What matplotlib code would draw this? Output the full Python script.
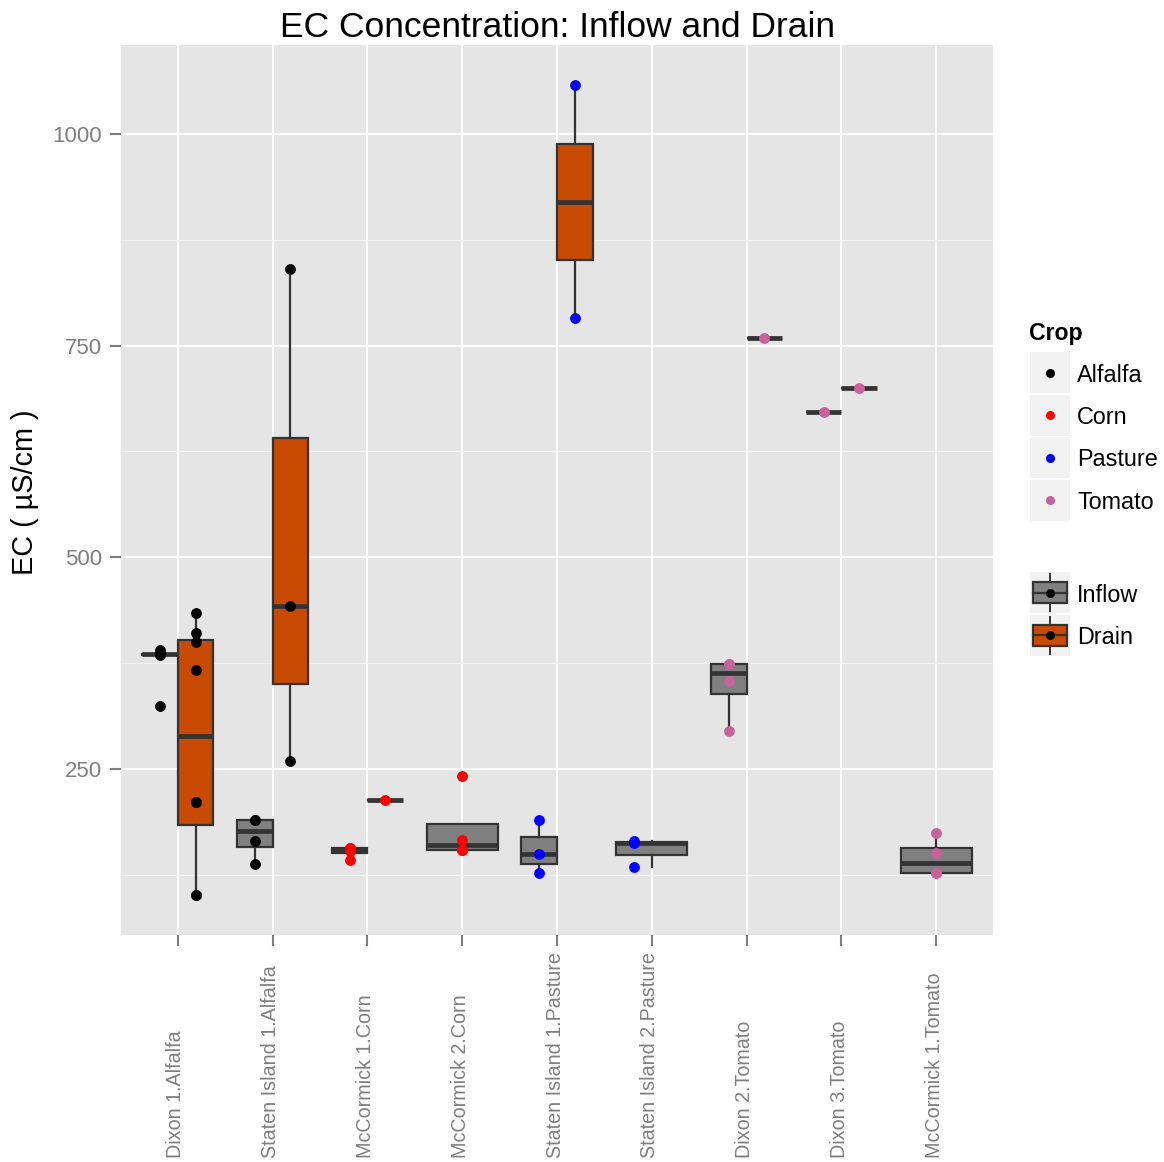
import matplotlib
matplotlib.use("Agg")
import matplotlib.pyplot as plt
from matplotlib.patches import Rectangle
import numpy as np

plt.rcParams["font.family"] = ["Liberation Sans", "DejaVu Sans"]

# ---- data ----
sites = [
    "Dixon 1.Alfalfa", "Staten Island 1.Alfalfa", "McCormick 1.Corn",
    "McCormick 2.Corn", "Staten Island 1.Pasture", "Staten Island 2.Pasture",
    "Dixon 2.Tomato", "Dixon 3.Tomato", "McCormick 1.Tomato",
]
site_crop = ["Alfalfa", "Alfalfa", "Corn", "Corn", "Pasture", "Pasture",
             "Tomato", "Tomato", "Tomato"]

inflow_ec = [
    [325, 385, 386, 386, 391],
    [138, 165, 190, 190],
    [143, 153, 157, 157],
    [155, 155, 166, 242],
    [127, 150, 190],
    [135, 163, 165],
    [295, 354, 374, 374],
    [672],
    [127, 127, 151, 175],
]
drain_ec = [
    [102, 102, 211, 211, 367, 400, 411, 434],
    [260, 442, 840],
    [214],
    [],
    [782, 1057],
    [],
    [759],
    [700],
    [],
]

crops = ["Alfalfa", "Corn", "Pasture", "Tomato"]
crop_colors = ["#000000", "#FF0000", "#0000FF", "#C8629C"]
types = ["Inflow", "Drain"]
type_fills = ["#808080", "#C94A02"]

# ---- layout / style ----
W, H = 1164, 1162
EDGE = "#333333"
GREY50 = "#7F7F7F"
dodge = 0.1875
# inflow-only sites: points of "Staten Island 2.Pasture" still sit at the inflow slot
inflow_point_slot = [-1, -1, -1, 0, -1, -1, -1, -1, 0]

fig = plt.figure(figsize=(W / 100, H / 100), dpi=100)
ax = fig.add_axes([121 / W, 1 - 935 / H, 872 / W, 890 / H])
ax.set_facecolor("#E5E5E5")
for s in ax.spines.values():
    s.set_visible(False)

color_of = dict(zip(crops, crop_colors))
box_kw = dict(patch_artist=True, showfliers=False, showcaps=False,
              boxprops=dict(edgecolor=EDGE, linewidth=1.6),
              whiskerprops=dict(color=EDGE, linewidth=1.6),
              medianprops=dict(color=EDGE, linewidth=3.4, solid_capstyle="butt"),
              manage_ticks=False)

for i, (site, crop) in enumerate(zip(sites, site_crop)):
    x = i + 1
    both = len(drain_ec[i]) > 0
    groups = [(inflow_ec[i], 0), (drain_ec[i], 1)]
    for vals, t in groups:
        if not vals:
            continue
        if both:
            pos = x - dodge if t == 0 else x + dodge
            width = 2 * dodge
        else:
            pos = x
            width = 4 * dodge
        bp = ax.boxplot([vals], positions=[pos], widths=width, **box_kw)
        for b in bp["boxes"]:
            b.set_facecolor(type_fills[t])
            b.set_zorder(2)
        if t == 0 and not both:
            px = x + inflow_point_slot[i] * dodge
        else:
            px = pos
        ax.plot([px] * len(vals), vals, "o", color=color_of[crop], ms=7.8,
                mec="none", zorder=4)

all_vals = np.concatenate([np.array(v, float) for v in inflow_ec + drain_ec if v])
lo, hi = all_vals.min(), all_vals.max()
pad = (hi - lo) * 0.05
ax.set_ylim(lo - pad, hi + pad)
ax.set_xlim(0.4, len(sites) + 0.6)

ax.set_yticks([250, 500, 750, 1000])
ax.set_yticks([125, 375, 625, 875], minor=True)
ax.set_xticks(np.arange(1, len(sites) + 1))
ax.set_xticklabels([])
ax.grid(True, which="major", color="white", linewidth=1.5)
ax.grid(True, which="minor", axis="y", color="#F2F2F2", linewidth=0.8)
ax.set_axisbelow(True)
ax.tick_params(which="major", length=8, width=1.5, color=GREY50,
               labelcolor=GREY50, labelsize=16, pad=5.5)
ax.tick_params(which="minor", length=0)

for i, site in enumerate(sites):
    ax.text(i + 1 - 0.02, -(1158 - 935) / 890, site, transform=ax.get_xaxis_transform(),
            rotation=90, ha="center", va="bottom", fontsize=14.2, color=GREY50)

fig.text(557 / W, 1 - 37 / H, "EC Concentration: Inflow and Drain",
         ha="center", va="baseline", fontsize=25.5)
fig.text(25 / W, 1 - 492 / H, "EC ( \u00b5S/cm )", rotation=90,
         ha="center", va="center", fontsize=20.8)

# ---- legends (drawn in a pixel-space overlay) ----
lg = fig.add_axes([0, 0, 1, 1], facecolor="none")
lg.set_xlim(0, W)
lg.set_ylim(H, 0)
lg.axis("off")

lg.text(1029, 340, "Crop", fontsize=16.6, fontweight="bold", va="baseline")
crop_key_top = [352, 394.5, 437, 479.5]
for top, name, col in zip(crop_key_top, crops, crop_colors):
    lg.add_patch(Rectangle((1030, top), 40, 41, facecolor="#F2F2F2", edgecolor="none"))
    lg.plot(1050, top + 20.5, "o", color=col, ms=6.5, mec="none")
    lg.text(1077, top + 20.5, name, fontsize=16.8, va="center_baseline")

type_key_top = [572, 614.5]
for top, name, fill in zip(type_key_top, types, type_fills):
    lg.add_patch(Rectangle((1030, top), 40, 41, facecolor="#F2F2F2", edgecolor="none"))
    cy = top + 20.5
    lg.plot([1050, 1050], [top + 2, top + 39], color=EDGE, lw=1.4, zorder=2)
    lg.add_patch(Rectangle((1033, cy - 10.5), 34, 21, facecolor=fill, edgecolor=EDGE,
                           lw=1.6, zorder=3))
    lg.plot([1033, 1067], [cy, cy], color=EDGE, lw=1.6, zorder=4)
    lg.plot(1050, cy, "o", color="black", ms=6.5, mec="none", zorder=5)
    lg.text(1077, cy, name, fontsize=16.8, va="center_baseline")

fig.savefig("out.png", dpi=100)
